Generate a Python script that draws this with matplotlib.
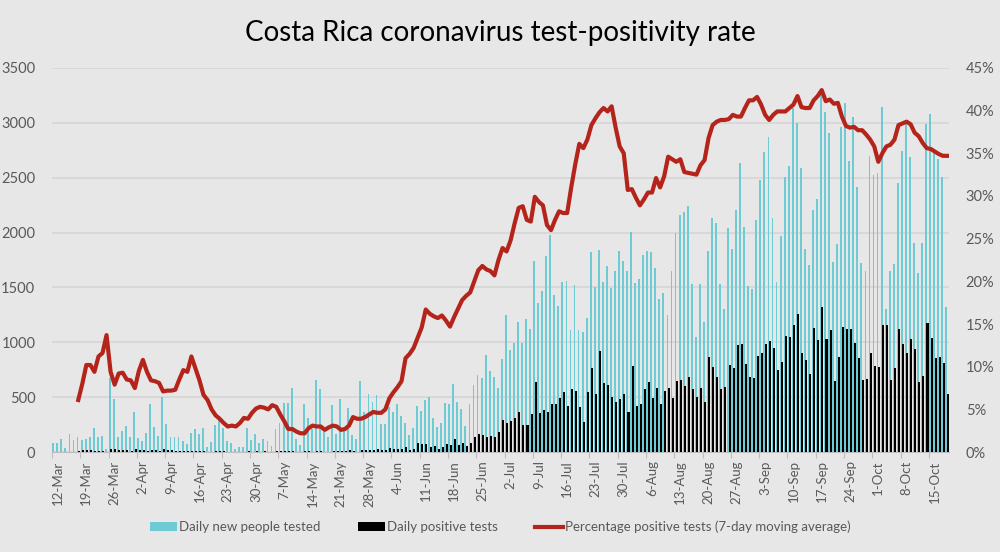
import numpy as np
import pandas as pd
import matplotlib
matplotlib.use("Agg")
import matplotlib.pyplot as plt
from matplotlib.patches import Patch
from matplotlib.lines import Line2D

plt.rcParams['font.family'] = ['Lato', 'DejaVu Sans']

# days from 12-Mar-2020 to 19-Oct-2020
dates = pd.date_range("2020-03-12", "2020-10-19", freq="D")

tested = [
    85, 80, 118, 36, 164, 106, 140, 106, 115, 134, 219, 140, 146, 27,
    671, 480, 137, 195, 237, 140, 368, 125, 103, 176, 437, 231, 146, 504,
    255, 140, 140, 140, 97, 70, 170, 207, 164, 219, 46, 91, 249, 292,
    219, 97, 79, 27, 49, 49, 222, 109, 164, 85, 115, 103, 60, 207,
    267, 443, 443, 586, 115, 64, 437, 310, 207, 656, 574, 182, 134, 425,
    164, 480, 231, 401, 152, 121, 644, 365, 529, 459, 516, 258, 258, 413,
    368, 434, 328, 261, 152, 219, 419, 377, 474, 498, 307, 231, 267, 443,
    437, 620, 459, 389, 237, 437, 611, 699, 674, 884, 735, 685, 586, 848,
    1249, 930, 990, 1188, 996, 1215, 1124, 1744, 1361, 1470, 1786, 1978, 1428, 1331,
    1552, 1561, 1112, 1519, 1112, 1094, 1218, 1820, 1501, 1840, 1552, 1698, 1492, 1647,
    1829, 1738, 1653, 2005, 1540, 1574, 1795, 1829, 1820, 1680, 1397, 1446, 1246, 1653,
    1993, 2160, 2190, 2242, 1528, 1051, 1528, 1188, 1829, 2130, 2084, 1528, 1303, 2044,
    1853, 2206, 2631, 2053, 1513, 1486, 2114, 2479, 2737, 2874, 2136, 1552, 1972, 2509,
    2607, 3132, 2996, 2586, 1850, 1704, 2206, 2303, 3260, 3102, 2904, 1732, 1896, 2965,
    3178, 2652, 3050, 2418, 1720, 1650, 2698, 2525, 2540, 3142, 1300, 1650, 1711, 2449,
    2746, 3026, 2691, 1908, 1629, 1908, 2989, 3081, 2722, 2668, 2504, 1324,
]

positives = [
    5, 4, 2, 0, 4, 0, 14, 18, 22, 20, 12, 8, 10, 5,
    30, 28, 22, 19, 17, 13, 24, 19, 15, 14, 20, 18, 13, 25,
    22, 15, 14, 12, 8, 8, 10, 9, 8, 6, 3, 3, 9, 10,
    6, 3, 2, 1, 3, 2, 8, 3, 6, 5, 6, 5, 2, 6,
    8, 10, 9, 10, 3, 2, 8, 7, 5, 14, 12, 5, 4, 12,
    6, 12, 8, 16, 6, 5, 20, 18, 23, 20, 25, 18, 18, 40,
    27, 27, 27, 49, 18, 27, 79, 70, 70, 49, 55, 24, 43, 70,
    64, 115, 64, 79, 58, 85, 140, 164, 152, 140, 143, 137, 185, 292,
    261, 283, 307, 368, 243, 243, 346, 641, 353, 380, 362, 435, 438, 489,
    550, 419, 571, 559, 407, 271, 544, 763, 529, 925, 626, 608, 498, 453,
    480, 526, 362, 784, 419, 438, 571, 641, 489, 580, 441, 559, 580, 489,
    650, 656, 598, 686, 571, 498, 580, 453, 863, 772, 681, 571, 595, 793,
    763, 972, 984, 799, 681, 673, 878, 905, 984, 1012, 951, 747, 820, 1060,
    1051, 1157, 1255, 905, 836, 711, 1133, 1021, 1319, 1027, 1112, 650, 863, 1139,
    1124, 1124, 991, 857, 659, 665, 899, 787, 778, 1155, 1160, 659, 763, 1124,
    981, 899, 1033, 936, 638, 693, 1173, 1042, 860, 863, 808, 529,
]

# 7-day moving average of positivity (%), starts 18-Mar
pct_avg = [np.nan] * 6 + [
    6.1, 8.0, 10.2, 10.2, 9.4, 11.2, 11.6, 13.7, 9.4, 7.9, 9.2, 9.3, 8.5, 8.4,
    7.5, 9.5, 10.8, 9.4, 8.4, 8.3, 8.1, 7.1, 7.2, 7.2, 7.3, 8.5, 9.6, 9.4,
    11.2, 9.8, 8.4, 6.7, 6.1, 5.0, 4.3, 3.9, 3.4, 3.0, 3.1, 3.0, 3.4, 4.0,
    3.9, 4.6, 5.1, 5.3, 5.2, 5.0, 5.5, 5.3, 4.4, 3.6, 2.7, 2.7, 2.4, 2.2,
    2.2, 2.8, 3.1, 3.0, 3.0, 2.6, 2.9, 3.1, 3.0, 2.6, 2.7, 3.1, 4.1, 3.9,
    3.9, 4.1, 4.4, 4.7, 4.6, 4.6, 5.0, 6.3, 7.0, 7.6, 8.3, 11.0, 11.5, 12.2,
    13.4, 14.6, 16.7, 16.2, 15.9, 15.7, 16.0, 15.4, 14.7, 15.8, 16.8, 17.8, 18.3, 18.7,
    20.0, 21.3, 21.8, 21.4, 21.2, 20.7, 22.5, 23.9, 23.5, 24.8, 26.8, 28.6, 28.8, 27.2,
    27.0, 29.9, 29.3, 28.9, 26.6, 26.0, 27.2, 28.2, 28.0, 28.0, 31.0, 33.7, 36.1, 35.6,
    36.6, 38.3, 39.1, 39.8, 40.3, 39.9, 40.5, 38.0, 35.8, 35.0, 30.7, 30.8, 29.8, 28.9,
    29.6, 30.4, 30.4, 32.1, 31.0, 32.3, 34.6, 34.3, 34.0, 34.3, 32.8, 32.7, 32.6, 32.5,
    33.6, 34.2, 36.8, 38.3, 38.7, 38.9, 38.9, 39.0, 39.5, 39.3, 39.3, 40.3, 41.2, 41.2,
    41.6, 40.7, 39.5, 38.9, 39.5, 39.9, 39.9, 39.9, 40.3, 40.7, 41.7, 40.4, 40.3, 40.3,
    41.2, 41.7, 42.4, 41.1, 41.3, 40.8, 40.9, 39.3, 38.2, 38.0, 38.1, 37.7, 37.7, 37.2,
    36.6, 35.8, 34.0, 35.0, 35.8, 36.0, 36.6, 38.3, 38.5, 38.7, 38.4, 37.4, 37.0, 36.2,
    35.6, 35.5, 35.2, 34.9, 34.7, 34.7,
]

bg = "#e7e7e7"
cyan = "#6fcbd3"
red = "#b5241b"
txt = "#595959"

fig = plt.figure(figsize=(10, 5.52), dpi=100, facecolor=bg)
ax = fig.add_axes([0.052, 0.181, 0.897, 0.696])
ax.set_facecolor(bg)

x = np.arange(len(dates))
ax.bar(x - 0.18, tested, width=0.46, color=cyan, linewidth=0,
       antialiased=False, zorder=2)
ax.bar(x + 0.18, positives, width=0.5, color="black", linewidth=0,
       antialiased=False, zorder=3)

ax.set_ylim(0, 3500)
ax.set_yticks(range(0, 3501, 500))
ax.set_xlim(-0.5, len(dates) - 0.5)
ax.grid(axis="y", color="#d6d6d6", linewidth=1.2, zorder=0)
ax.set_axisbelow(True)

ticks = x[::7]
ax.set_xticks(ticks - 0.5)
ax.set_xticklabels([f"{d.day}-{d.strftime('%b')}" for d in dates[::7]],
                   rotation=90, fontsize=9.5, color=txt)
ax.tick_params(axis="x", length=4, color="#bfbfbf", pad=2)
for lab in ax.get_xticklabels():
    lab.set_horizontalalignment("left")
ax.tick_params(axis="y", length=0, labelsize=10.5, labelcolor=txt, pad=12)

for s in ["top", "right", "left"]:
    ax.spines[s].set_visible(False)
ax.spines["bottom"].set_color("#bfbfbf")

ax2 = ax.twinx()
ax2.plot(x, pct_avg, color=red, linewidth=3, zorder=4, solid_joinstyle="round")
ax2.set_ylim(0, 45)
ax2.set_yticks(range(0, 46, 5))
ax2.set_yticklabels([f"{v}%" for v in range(0, 46, 5)])
ax2.tick_params(axis="y", length=0, labelsize=10.5, labelcolor=txt, pad=12)
for s in ax2.spines.values():
    s.set_visible(False)

fig.text(0.5, 0.94, "Costa Rica coronavirus test-positivity rate",
         ha="center", va="center", fontsize=20, color="black")

handles = [
    Patch(facecolor=cyan, edgecolor="none", label="Daily new people tested"),
    Patch(facecolor="black", edgecolor="none", label="Daily positive tests"),
    Line2D([0], [0], color=red, linewidth=3,
           label="Percentage positive tests (7-day moving average)"),
]
fig.legend(handles=handles, loc="center", bbox_to_anchor=(0.5, 0.045), ncol=3,
           frameon=False, fontsize=9.5, handlelength=2.1, columnspacing=2.8,
           handletextpad=0.15, labelcolor=txt)

fig.savefig("out.png", dpi=100, facecolor=bg)
